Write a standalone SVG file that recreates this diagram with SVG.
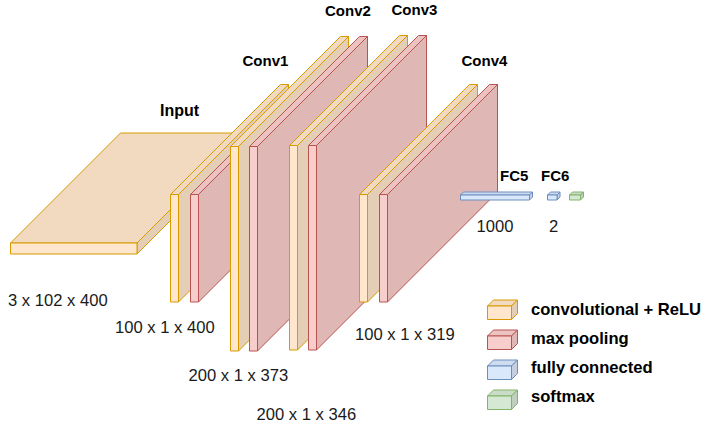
<svg xmlns="http://www.w3.org/2000/svg" width="719" height="431" viewBox="0 0 719 431">
<style>
.t{font-family:"Liberation Sans",Arial,sans-serif;font-size:16.6px;fill:#1a1a1a}
.b{font-family:"Liberation Sans",Arial,sans-serif;font-size:15px;font-weight:bold;fill:#000}
.lg{font-family:"Liberation Sans",Arial,sans-serif;font-size:16.6px;font-weight:bold;fill:#000}
.y .f{fill:#ffe6cc}.y .tp{fill:#f2dac0}.y .sd{fill:#e5ceb6}.y *{stroke:#d79b00}
.r .f{fill:#f8cecc}.r .tp{fill:#ecc3c1}.r .sd{fill:#dfb8b6}.r *{stroke:#b85450}
.bl .f{fill:#dae8fc}.bl .tp{fill:#cfdcef}.bl .sd{fill:#c4d0e2}.bl *{stroke:#6c8ebf}
.g .f{fill:#d5e8d4}.g .tp{fill:#cadcc9}.g .sd{fill:#bfd0be}.g *{stroke:#82b366}
path,rect{stroke-width:1;stroke-linejoin:round}
</style>
<g id="input" class="y">
<path class="tp" d="M10.5,243 L120.5,133 L247,133 L137,243 Z"/>
<path class="sd" d="M137,243 L247,133 L247,144 L137,254 Z"/>
<rect class="f" x="10.5" y="243" width="126.5" height="11"/>
</g>
<g id="conv1-relu" class="y">
<path class="tp" d="M170.5,194.5 L280.5,84.5 L288.5,84.5 L178.5,194.5 Z"/>
<path class="sd" d="M178.5,194.5 L288.5,84.5 L288.5,192 L178.5,302 Z"/>
<rect class="f" x="170.5" y="194.5" width="8" height="107.5"/>
</g>
<g id="conv1-pool" class="r">
<path class="tp" d="M190.5,194.5 L300.5,84.5 L308.5,84.5 L198.5,194.5 Z"/>
<path class="sd" d="M198.5,194.5 L308.5,84.5 L308.5,192 L198.5,302 Z"/>
<rect class="f" x="190.5" y="194.5" width="8" height="107.5"/>
</g>
<g id="conv2-relu" class="y">
<path class="tp" d="M230.5,146.5 L340.5,36.5 L348.5,36.5 L238.5,146.5 Z"/>
<path class="sd" d="M238.5,146.5 L348.5,36.5 L348.5,241 L238.5,351 Z"/>
<rect class="f" x="230.5" y="146.5" width="8" height="204.5"/>
</g>
<g id="conv2-pool" class="r">
<path class="tp" d="M249.5,146.5 L359.5,36.5 L367.5,36.5 L257.5,146.5 Z"/>
<path class="sd" d="M257.5,146.5 L367.5,36.5 L367.5,241 L257.5,351 Z"/>
<rect class="f" x="249.5" y="146.5" width="8" height="204.5"/>
</g>
<g id="conv3-relu" class="y">
<path class="tp" d="M289.5,145.5 L399.5,35.5 L407.5,35.5 L297.5,145.5 Z"/>
<path class="sd" d="M297.5,145.5 L407.5,35.5 L407.5,240 L297.5,350 Z"/>
<rect class="f" x="289.5" y="145.5" width="8" height="204.5"/>
</g>
<g id="conv3-pool" class="r">
<path class="tp" d="M308.5,145.5 L418.5,35.5 L426.5,35.5 L316.5,145.5 Z"/>
<path class="sd" d="M316.5,145.5 L426.5,35.5 L426.5,240 L316.5,350 Z"/>
<rect class="f" x="308.5" y="145.5" width="8" height="204.5"/>
</g>
<g id="conv4-relu" class="y">
<path class="tp" d="M359.5,194.5 L469.5,84.5 L477.5,84.5 L367.5,194.5 Z"/>
<path class="sd" d="M367.5,194.5 L477.5,84.5 L477.5,192 L367.5,302 Z"/>
<rect class="f" x="359.5" y="194.5" width="8" height="107.5"/>
</g>
<g id="conv4-pool" class="r">
<path class="tp" d="M379.5,194.5 L489.5,84.5 L497.5,84.5 L387.5,194.5 Z"/>
<path class="sd" d="M387.5,194.5 L497.5,84.5 L497.5,192 L387.5,302 Z"/>
<rect class="f" x="379.5" y="194.5" width="8" height="107.5"/>
</g>
<g id="fc5" class="bl">
<path class="tp" d="M460.5,195 L463.5,192 L532.5,192 L529.5,195 Z"/>
<path class="sd" d="M529.5,195 L532.5,192 L532.5,197 L529.5,200 Z"/>
<rect class="f" x="460.5" y="195" width="69" height="5"/>
</g>
<g id="fc6" class="bl">
<path class="tp" d="M547.5,195 L550.5,192 L560,192 L557,195 Z"/>
<path class="sd" d="M557,195 L560,192 L560,197 L557,200 Z"/>
<rect class="f" x="547.5" y="195" width="9.5" height="5"/>
</g>
<g id="softmax" class="g">
<path class="tp" d="M569.5,195 L572.5,192 L583.5,192 L580.5,195 Z"/>
<path class="sd" d="M580.5,195 L583.5,192 L583.5,197 L580.5,200 Z"/>
<rect class="f" x="569.5" y="195" width="11" height="5"/>
</g>
<g id="connectors"></g>
<g id="labels">
<text class="b" x="160" y="116" style="font-size:16px">Input</text>
<text class="b" x="242.5" y="66">Conv1</text>
<text class="b" x="325" y="16">Conv2</text>
<text class="b" x="391.5" y="15">Conv3</text>
<text class="b" x="461.5" y="66">Conv4</text>
<text class="b" x="500" y="181">FC5</text>
<text class="b" x="541" y="181">FC6</text>
<text class="t" x="476.5" y="232">1000</text>
<text class="t" x="549" y="232">2</text>
<text class="t" x="8" y="305.5">3 x 102 x 400</text>
<text class="t" x="115" y="333">100 x 1 x 400</text>
<text class="t" x="188.5" y="381">200 x 1 x 373</text>
<text class="t" x="256.5" y="420">200 x 1 x 346</text>
<text class="t" x="355" y="340">100 x 1 x 319</text>
</g>
<g id="legend">
<g id="legend-conv" class="y">
<path class="tp" d="M487.5,306 L493.5,300 L517.5,300 L511.5,306 Z"/>
<path class="sd" d="M511.5,306 L517.5,300 L517.5,313.5 L511.5,319.5 Z"/>
<rect class="f" x="487.5" y="306" width="24" height="13.5"/>
</g>
<g id="legend-pool" class="r">
<path class="tp" d="M487.5,336 L493.5,330 L517.5,330 L511.5,336 Z"/>
<path class="sd" d="M511.5,336 L517.5,330 L517.5,343.5 L511.5,349.5 Z"/>
<rect class="f" x="487.5" y="336" width="24" height="13.5"/>
</g>
<g id="legend-fc" class="bl">
<path class="tp" d="M487.5,366 L493.5,360 L517.5,360 L511.5,366 Z"/>
<path class="sd" d="M511.5,366 L517.5,360 L517.5,373.5 L511.5,379.5 Z"/>
<rect class="f" x="487.5" y="366" width="24" height="13.5"/>
</g>
<g id="legend-softmax" class="g">
<path class="tp" d="M487.5,396 L493.5,390 L517.5,390 L511.5,396 Z"/>
<path class="sd" d="M511.5,396 L517.5,390 L517.5,403.5 L511.5,409.5 Z"/>
<rect class="f" x="487.5" y="396" width="24" height="13.5"/>
</g>
<text class="lg" x="531" y="315">convolutional + ReLU</text>
<text class="lg" x="531" y="344">max pooling</text>
<text class="lg" x="531" y="373">fully connected</text>
<text class="lg" x="531" y="402">softmax</text>
</g>
</svg>
